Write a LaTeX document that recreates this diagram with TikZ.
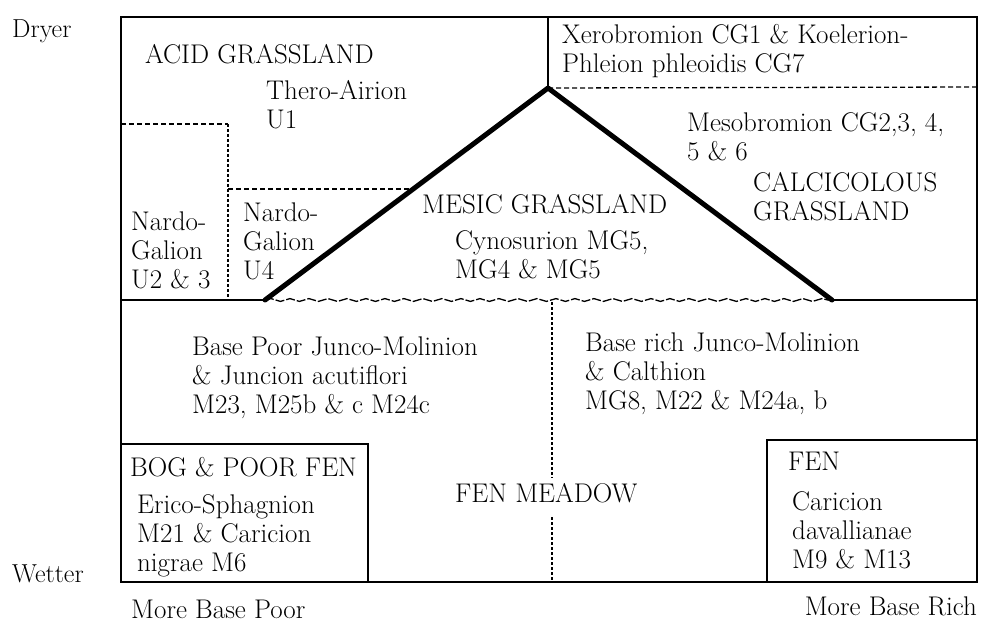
\documentclass[tikz,border=0pt]{standalone}
\usepackage{fontspec}
\setmainfont{Latin Modern Roman}
\usetikzlibrary{decorations.pathmorphing}
\begin{document}
\begin{tikzpicture}[x=1pt,y=-1pt,
  frame/.style={line width=2.6pt},
  ridge/.style={line width=5pt,line cap=round,line join=round},
  thindash/.style={line width=1.3pt,dash pattern=on 5pt off 3pt},
  dotline/.style={line width=1.5pt,dash pattern=on 2.5pt off 2.5pt},
  wavy/.style={line width=1.3pt,dash pattern=on 9pt off 2pt,decorate,decoration={snake,amplitude=1.4pt,segment length=19pt}},
  lab/.style={anchor=base west,inner sep=0pt,font=\fontsize{27}{29}\selectfont,align=left},
  side/.style={anchor=base west,inner sep=0pt,font=\fontsize{26}{28}\selectfont}]
\useasboundingbox (0,0) rectangle (983,622);
% coordinates
\coordinate (tl) at (121,17);
\coordinate (br) at (977,582);
\coordinate (apex) at (548,88);
\coordinate (topdiv) at (548,17);
\coordinate (lfoot) at (265,300);
\coordinate (rfoot) at (832,300);
\coordinate (lmid) at (121,300);
\coordinate (rmid) at (977,300);
% outer frame
\draw[frame] (tl) rectangle (br);
% upper divider
\draw[frame] (topdiv) -- (apex);
\draw[frame] (lmid) -- (lfoot);
\draw[frame] (rfoot) -- (rmid);
\draw[wavy] (lfoot) -- (rfoot);
% mesic triangle
\draw[ridge] (lfoot) -- (apex) -- (rfoot);
% calcicolous dashed divider
\draw[thindash] (apex) -- (977,87);
% nardo boxes
\draw[thindash] (121,124) -- (228,124);
\draw[dotline] (228,124) -- (228,300);
\draw[thindash] (228,189) -- (413,189);
% fen meadow divider
\draw[dotline] (552,302) -- (552,478);
\draw[dotline] (552,517) -- (552,580);
% bog and fen boxes
\draw[frame] (121,444) -- (368,444) -- (368,582);
\draw[frame] (977,440) -- (767,440) -- (767,582);
% texts (base = baseline of last line)
\node[side] (dryer) at (12,37) {Dryer};
\node[side] (wetter) at (12,582) {Wetter};
\node[lab] (acid) at (145,63) {ACID GRASSLAND};
\node[lab] (thero) at (266,128) {Thero-Airion\\U1};
\node[lab] (nardoa) at (131,288) {Nardo-\\Galion\\U2 \& 3};
\node[lab] (nardob) at (243,279) {Nardo-\\Galion\\U4};
\node[lab] (mesic) at (422,213) {MESIC GRASSLAND};
\node[lab] (cyno) at (455,278) {Cynosurion MG5,\\MG4 \& MG5};
\node[lab] (xero) at (562,72) {Xerobromion CG1 \& Koelerion-\\Phleion phleoidis CG7};
\node[lab] (meso) at (687,160) {Mesobromion CG2,3, 4,\\5 \& 6};
\node[lab] (calc) at (753,220) {CALCICOLOUS\\GRASSLAND};
\node[lab] (bpoor) at (192,413) {Base Poor Junco-Molinion\\\& Juncion acutiflori\\M23, M25b \& c M24c};
\node[lab] (brich) at (585,409) {Base rich Junco-Molinion\\\& Calthion\\MG8, M22 \& M24a, b};
\node[lab] (bog) at (130,476) {BOG \& POOR FEN};
\node[lab] (erico) at (137,571) {Erico-Sphagnion\\M21 \& Caricion\\nigrae M6};
\node[lab] (fenmeadow) at (455,502) {FEN MEADOW};
\node[lab] (fen) at (788,470) {FEN};
\node[lab] (cari) at (792,568) {Caricion\\davallianae\\M9 \& M13};
\node[lab] (morepoor) at (131,618) {More Base Poor};
\node[lab,anchor=base east] (morerich) at (977,615) {More Base Rich};
\end{tikzpicture}
\end{document}
